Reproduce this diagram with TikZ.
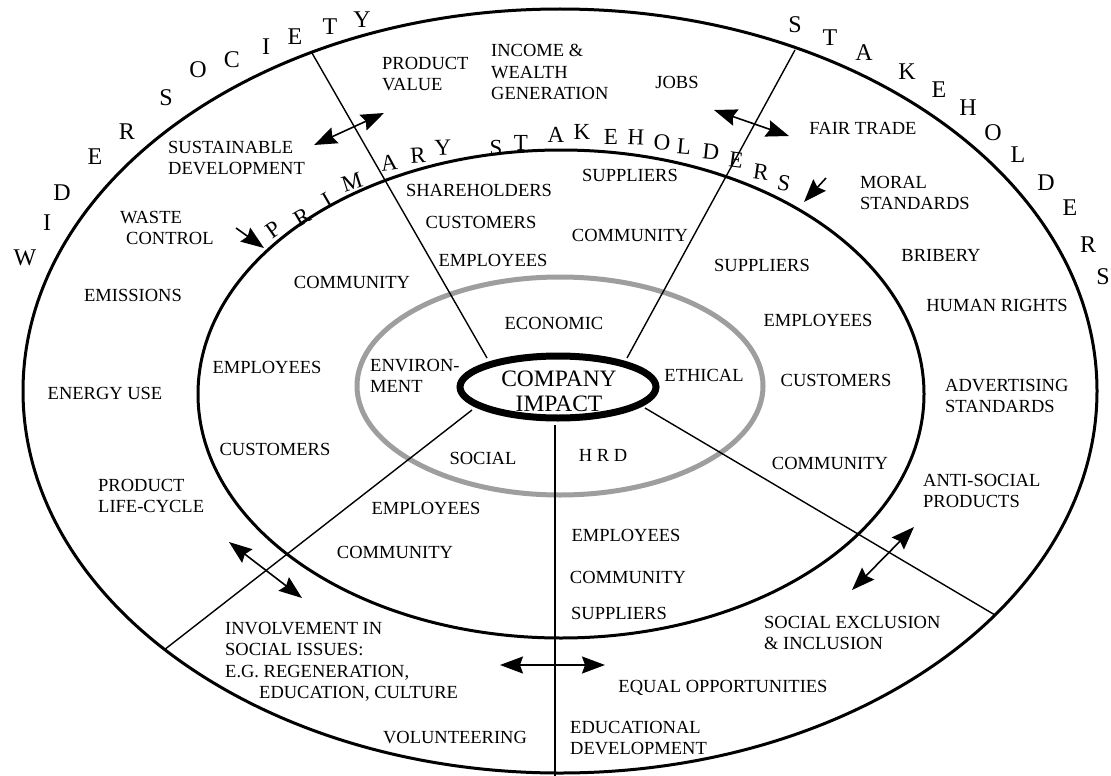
\documentclass[tikz,border=0pt]{standalone}
\usepackage{fontspec}
\setmainfont{Liberation Serif}
\usetikzlibrary{arrows.meta,shapes.geometric}
\begin{document}
\begin{tikzpicture}[x=1pt,y=-1pt,
  lbl/.style={inner sep=0pt, font=\fontsize{18.5}{21.5}\selectfont},
  lblw/.style={lbl, anchor=west, align=left},
  bigletter/.style={inner sep=0pt, font=\fontsize{24}{24}\selectfont},
  primletter/.style={inner sep=0pt, font=\fontsize{23}{23}\selectfont},
  ring/.style={line width=3pt},
  ray/.style={line width=1.4pt},
  tip/.tip={Stealth[length=23pt,width=17pt,inset=3pt]},
  dbl/.style={line width=1.6pt, tip-tip},
  sgl/.style={line width=1.6pt, -tip}
]
\useasboundingbox (0,0) rectangle (1111,776);
\fill[white] (0,0) rectangle (1111,776);

% rings
\draw[ring] (560,391) ellipse [x radius=537, y radius=382];
\draw[ring] (561,394) ellipse [x radius=363, y radius=244];
\draw[line width=5pt, black!38] (560,386) ellipse [x radius=203, y radius=109];

% rays
\coordinate (i1) at (487,358); \coordinate (o1) at (312,53);
\coordinate (i2) at (627,358); \coordinate (o2) at (795,50);
\coordinate (i3) at (472,410); \coordinate (o3) at (164,650);
\coordinate (i4) at (555,425); \coordinate (o4) at (555,776);
\coordinate (i5) at (645,408); \coordinate (o5) at (995,615);
\foreach \k in {1,...,5} \draw[ray] (i\k) -- (o\k);

% company impact
\node[draw, line width=7pt, ellipse, minimum width=196pt, minimum height=62pt, inner sep=0pt] (impactring) at (558,387) {};
\node[inner sep=0pt, align=center, font=\fontsize{23.5}{25}\selectfont] (impact) at (559,391) {COMPANY\\IMPACT};

% WIDER SOCIETY
\foreach \l/\x/\y [count=\i] in {W/25/258, I/47/223, D/62/193, E/95/157, R/127/132, S/166/98, O/198/70, C/232/60, I/266/47, E/295/37, T/330/27, Y/362/20}
  \node[bigletter] (ws\i) at (\x,\y) {\l};
% STAKEHOLDERS (outer)
\foreach \l/\x/\y [count=\i] in {S/795/25, T/830/38, A/864/53, K/907/72, E/939/90, H/968/108, O/993/133, L/1018/155, D/1046/183, E/1070/208, R/1088/245, S/1103/277}
  \node[bigletter] (st\i) at (\x,\y) {\l};
% PRIMARY STAKEHOLDERS
\foreach \l/\x/\y/\r [count=\i] in {P/273/230/35, R/302/217/30, I/327/200/30, M/352/182/18, A/389/163/8, R/418/155/4, Y/443/148/2, S/496/148/0, T/521/143/0, A/556/135/0, K/582/132/0, E/611/137/0, H/636/137/-2, O/662/142/-3, L/684/147/-5, D/711/152/-6, E/736/160/-8, R/761/172/-8, S/784/183/-10}
  \node[primletter, rotate=\r] (ps\i) at (\x,\y) {\l};

% arrows
\coordinate (a1s) at (314,145); \coordinate (a1e) at (384,113);
\coordinate (a2s) at (714,110); \coordinate (a2e) at (789,136);
\coordinate (a3s) at (826,178); \coordinate (a3e) at (804,202);
\coordinate (a4s) at (236,228); \coordinate (a4e) at (264,248);
\coordinate (a5s) at (229,542); \coordinate (a5e) at (302,598);
\coordinate (a6s) at (500,665); \coordinate (a6e) at (605,665);
\coordinate (a7s) at (914,527); \coordinate (a7e) at (852,590);
\draw[dbl] (a1s) -- (a1e);
\draw[dbl] (a2s) -- (a2e);
\draw[sgl] (a3s) -- (a3e);
\draw[sgl] (a4s) -- (a4e);
\draw[dbl] (a5s) -- (a5e);
\draw[dbl] (a6s) -- (a6e);
\draw[dbl] (a7s) -- (a7e);

% outer band labels
\node[lblw] (pv) at (382,74) {PRODUCT\\VALUE};
\node[lblw] (inc) at (491,72) {INCOME \&\\WEALTH\\GENERATION};
\node[lbl] (jobs) at (677,82) {JOBS};
\node[lblw] (sust) at (168,158) {SUSTAINABLE\\DEVELOPMENT};
\node[lblw] (waste) at (120,228) {WASTE\\\hspace*{6pt}CONTROL};
\node[lbl] (fair) at (863,128) {FAIR TRADE};
\node[lblw] (moral) at (860,193) {MORAL\\STANDARDS};
\node[lbl] (brib) at (941,255) {BRIBERY};
\node[lbl] (human) at (997,305) {HUMAN RIGHTS};
\node[lblw] (adv) at (945,396) {ADVERTISING\\STANDARDS};
\node[lblw] (anti) at (923,491) {ANTI-SOCIAL\\PRODUCTS};
\node[lbl] (emis) at (133,295) {EMISSIONS};
\node[lbl] (energy) at (105,393) {ENERGY USE};
\node[lblw] (plc) at (98,496) {PRODUCT\\LIFE-CYCLE};
\node[lblw] (inv) at (225,662) {INVOLVEMENT IN\\SOCIAL ISSUES:\\E.G. REGENERATION,\\\hspace*{34pt}EDUCATION, CULTURE};
\node[lbl] (vol) at (455,738) {VOLUNTEERING};
\node[lblw] (excl) at (764,633) {SOCIAL EXCLUSION\\\& INCLUSION};
\node[lbl] (equal) at (723,688) {EQUAL OPPORTUNITIES};
\node[lblw] (edu) at (570,738) {EDUCATIONAL\\DEVELOPMENT};

% primary band labels
\node[lbl] (sh) at (479,190) {SHAREHOLDERS};
\node[lbl] (cu1) at (481,222) {CUSTOMERS};
\node[lbl] (em1) at (493,260) {EMPLOYEES};
\node[lbl] (su1) at (630,175) {SUPPLIERS};
\node[lbl] (co1) at (630,235) {COMMUNITY};
\node[lbl] (su2) at (762,265) {SUPPLIERS};
\node[lbl] (em2) at (818,320) {EMPLOYEES};
\node[lbl] (cu2) at (836,380) {CUSTOMERS};
\node[lbl] (co2) at (830,463) {COMMUNITY};
\node[lbl] (co3) at (352,282) {COMMUNITY};
\node[lbl] (em3) at (267,367) {EMPLOYEES};
\node[lbl] (cu3) at (275,449) {CUSTOMERS};
\node[lbl] (em4) at (426,508) {EMPLOYEES};
\node[lbl] (co4) at (395,552) {COMMUNITY};
\node[lbl] (em5) at (626,535) {EMPLOYEES};
\node[lbl] (co5) at (628,577) {COMMUNITY};
\node[lbl] (su5) at (619,613) {SUPPLIERS};

% impact areas
\node[lbl] (econ) at (554,323) {ECONOMIC};
\node[lbl] (eth) at (704,375) {ETHICAL};
\node[lblw] (env) at (370,376) {ENVIRON-\\MENT};
\node[lbl] (soc) at (483,458) {SOCIAL};
\node[lbl] (hrd) at (603,455) {H R D};
\end{tikzpicture}
\end{document}
